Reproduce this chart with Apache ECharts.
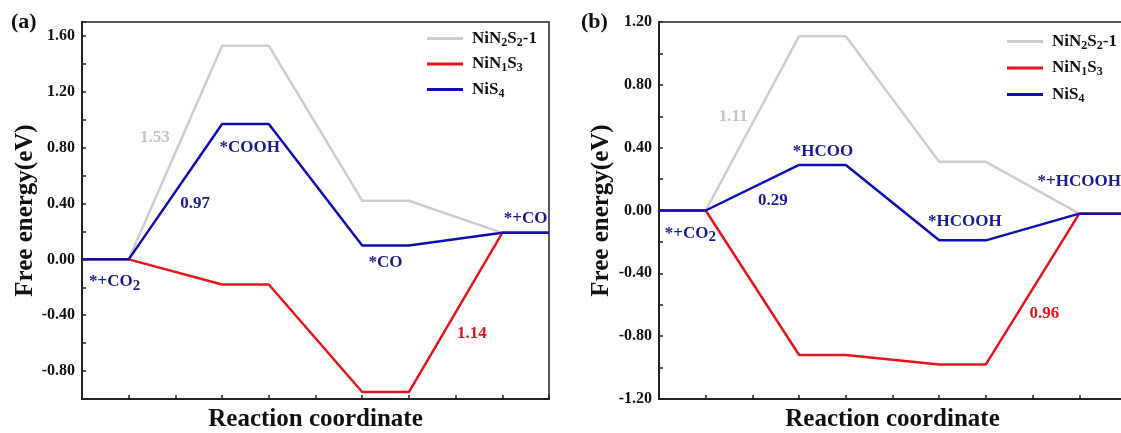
<!DOCTYPE html>
<html>
<head>
<meta charset="utf-8">
<script src="https://cdn.jsdelivr.net/npm/echarts@6/dist/echarts.min.js"></script>
<style>
  html, body { margin: 0; padding: 0; background: #fff; }
  #chart { width: 1121px; height: 433px; }
</style>
</head>
<body>
<div id="chart"></div>
<script>
// reaction coordinate of each state (every level is drawn as a flat step)
var stepX = [0, 1, 3, 4, 6, 7, 9, 10];

// (a) CO2 -> CO
var coNiN2S2 = [0, 0, 1.53, 1.53, 0.42, 0.42, 0.19, 0.19];
var coNiN1S3 = [0, 0, -0.18, -0.18, -0.95, -0.95, 0.19, 0.19];
var coNiS4 = [0, 0, 0.97, 0.97, 0.10, 0.10, 0.19, 0.19];

// (b) CO2 -> HCOOH
var hcNiN2S2 = [0, 0, 1.11, 1.11, 0.31, 0.31, -0.02, -0.02];
var hcNiN1S3 = [0, 0, -0.92, -0.92, -0.98, -0.98, -0.02, -0.02];
var hcNiS4 = [0, 0, 0.29, 0.29, -0.19, -0.19, -0.02, -0.02];

var seriesNames = ['NiN2S2-1', 'NiN1S3', 'NiS4'];

// notes written on the diagrams: [x, y, text, which colour]
var notesA = [
    [1.56, 0.87, '1.53', 'gray'],
    [3.59, 0.80, '*COOH', 'blue'],
    [2.42, 0.40, '0.97', 'blue'],
    [0.70, -0.16, '{t|*+CO}{s|2}', 'blue'],
    [6.50, -0.02, '*CO', 'blue'],
    [9.50, 0.29, '*+CO', 'blue'],
    [8.35, -0.53, '1.14', 'red']
];
var notesB = [
    [1.59, 0.60, '1.11', 'gray'],
    [3.51, 0.375, '*HCOO', 'blue'],
    [2.44, 0.065, '0.29', 'blue'],
    [0.67, -0.145, '{t|*+CO}{s|2}', 'blue'],
    [6.55, -0.07, '*HCOOH', 'blue'],
    [9.0, 0.185, '*+HCOOH', 'blue'],
    [8.25, -0.655, '0.96', 'red']
];

var FONT = '"Liberation Serif", "Times New Roman", serif';
var lineColors = { gray: '#cdcdcd', red: '#e8141b', blue: '#0d0db4' };
var textColors = { gray: '#c4c4c4', red: '#e8141b', blue: '#1a1a92' };

var pairs = function (ys) {
    return stepX.map(function (x, i) { return [x, ys[i]]; });
};

var lineSeries = function (name, ys, idx, color) {
    return {
        type: 'line',
        name: name,
        xAxisIndex: idx,
        yAxisIndex: idx,
        data: pairs(ys),
        symbol: 'none',
        lineStyle: { color: color, width: 2.5 },
        itemStyle: { color: color },
        z: 2
    };
};

var noteSeries = function (notes, idx) {
    return {
        type: 'scatter',
        name: 'notes',
        xAxisIndex: idx,
        yAxisIndex: idx,
        symbolSize: 0,
        silent: true,
        z: 5,
        itemStyle: { opacity: 1 },
        data: notes.map(function (n) {
            return {
                value: [n[0], n[1]],
                label: { color: textColors[n[3]], formatter: n[2] }
            };
        }),
        label: {
            show: true,
            position: 'inside',
            opacity: 1,
            fontFamily: FONT,
            fontWeight: 'bold',
            fontSize: 17,
            rich: {
                t: { fontFamily: FONT, fontWeight: 'bold', fontSize: 17 },
                s: { fontFamily: FONT, fontWeight: 'bold', fontSize: 15, padding: [8, 0, 0, 0] }
            }
        }
    };
};

var legendNames = {
    'NiN2S2-1': '{n|NiN}{s|2}{n|S}{s|2}{n|-1}',
    'NiN1S3': '{n|NiN}{s|1}{n|S}{s|3}',
    'NiS4': '{n|NiS}{s|4}'
};

var makeLegend = function (left, top, gap) {
    return {
        left: left,
        top: top,
        orient: 'vertical',
        padding: 0,
        icon: 'rect',
        itemWidth: 36,
        itemHeight: 3,
        itemGap: gap,
        data: seriesNames,
        formatter: function (name) { return legendNames[name]; },
        textStyle: {
            fontFamily: FONT,
            fontWeight: 'bold',
            fontSize: 17,
            color: '#111',
            padding: [0, 0, 0, 4],
            rich: {
                n: { fontFamily: FONT, fontWeight: 'bold', fontSize: 17, color: '#111' },
                s: { fontFamily: FONT, fontWeight: 'bold', fontSize: 12, color: '#111', padding: [8, 0, 0, 0] }
            }
        }
    };
};

var xAxisFor = function (idx) {
    return {
        type: 'value',
        gridIndex: idx,
        min: 0,
        max: 10,
        interval: 1,
        name: 'Reaction coordinate',
        nameLocation: 'middle',
        nameGap: 8,
        nameTextStyle: { fontFamily: FONT, fontWeight: 'bold', fontSize: 25, color: '#111' },
        axisLine: { onZero: false, lineStyle: { color: '#222', width: 2 } },
        axisTick: { inside: true, length: 4, lineStyle: { color: '#222', width: 1.5 } },
        axisLabel: { show: false },
        splitLine: { show: false }
    };
};

var yAxisFor = function (idx, min, max, gap) {
    return {
        type: 'value',
        gridIndex: idx,
        min: min,
        max: max,
        interval: 0.2,
        name: 'Free energy(eV)',
        nameLocation: 'middle',
        nameGap: gap,
        nameTextStyle: { fontFamily: FONT, fontWeight: 'bold', fontSize: 25, color: '#111' },
        axisLine: { onZero: false, lineStyle: { color: '#222', width: 2 } },
        axisTick: { inside: true, length: 4, lineStyle: { color: '#222', width: 1.5 } },
        axisLabel: {
            margin: 7,
            fontFamily: FONT,
            fontWeight: 'bold',
            fontSize: 16,
            color: '#111',
            formatter: function (v) {
                var k = Math.round(v / 0.4);
                if (Math.abs(k * 0.4 - v) > 1e-6) return '';
                return (Math.abs(v) < 1e-9 ? 0 : v).toFixed(2);
            }
        },
        splitLine: { show: false }
    };
};

var chart = echarts.init(document.getElementById('chart'));
chart.setOption({
    animation: false,
    backgroundColor: '#fff',
    title: [
        { text: '(a)', left: 11, top: 11, padding: 0, textStyle: { fontFamily: FONT, fontWeight: 'bold', fontSize: 22, color: '#111' } },
        { text: '(b)', left: 581, top: 11, padding: 0, textStyle: { fontFamily: FONT, fontWeight: 'bold', fontSize: 22, color: '#111' } }
    ],
    legend: [makeLegend(427, 30, 7), makeLegend(1007, 33, 8)],
    grid: [
        { left: 82, top: 22, width: 467, height: 377, outerBoundsMode: 'none', show: true, borderColor: '#222', borderWidth: 1.5 },
        { left: 659, top: 22, width: 467, height: 377, outerBoundsMode: 'none', show: true, borderColor: '#222', borderWidth: 1.5 }
    ],
    xAxis: [xAxisFor(0), xAxisFor(1)],
    yAxis: [yAxisFor(0, -1.0, 1.7, 39), yAxisFor(1, -1.2, 1.2, 45)],
    series: [
        lineSeries(seriesNames[0], coNiN2S2, 0, lineColors.gray),
        lineSeries(seriesNames[1], coNiN1S3, 0, lineColors.red),
        lineSeries(seriesNames[2], coNiS4, 0, lineColors.blue),
        noteSeries(notesA, 0),
        lineSeries(seriesNames[0], hcNiN2S2, 1, lineColors.gray),
        lineSeries(seriesNames[1], hcNiN1S3, 1, lineColors.red),
        lineSeries(seriesNames[2], hcNiS4, 1, lineColors.blue),
        noteSeries(notesB, 1)
    ]
});
</script>
</body>
</html>
